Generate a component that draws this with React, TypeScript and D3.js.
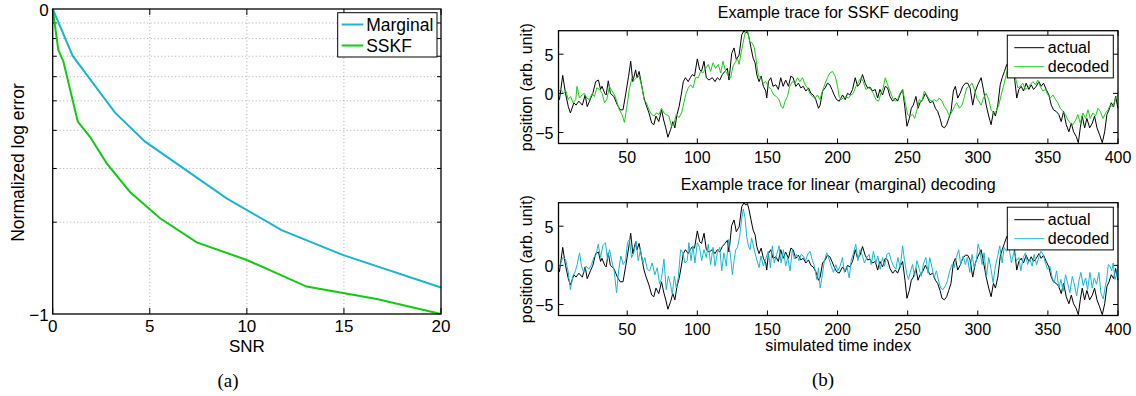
import * as d3 from "d3";

// (a) normalized log error vs SNR
const snrMarginal = [0, 1.03, 3.21, 4.76, 8.96, 11.79, 14.97, 20];
const errMarginal = [0, -0.154, -0.34, -0.435, -0.621, -0.725, -0.807, -0.913];
const snrSSKF = [0, 0.29, 0.55, 1.29, 1.92, 2.78, 3.98, 5.53, 7.42, 10, 13.08, 16.69, 20];
const errSSKF = [0, -0.134, -0.172, -0.369, -0.419, -0.506, -0.6, -0.686, -0.765, -0.823, -0.91, -0.951, -1];
const snrTicks = [0, 5, 10, 15, 20];
const errMajor = [0, -1];
const errMinor = [0.9, 0.8, 0.7, 0.6, 0.5, 0.4, 0.3, 0.2]; // log-decade minor ticks

// (b) example traces: [time index, position]
const actualTrace: [number, number][] = [
  [1, -0.4], [1.7, -0.8], [4, 2.3], [6, 0], [8, -1.7], [9.5, -2.5], [12, -1.2], [13.5, -1.5], [15.5, -1], [18, -1.5],
  [20, -0.2], [21.5, -1.7], [24, -0.6], [25.5, 0], [27.5, 1.5], [29.5, 1.7], [31, 0.5], [32, 0.9], [34, 0], [35, -0.2],
  [36.5, 1.6], [38, 0], [40.5, -0.4], [43, -1.5], [45, -2.1], [47, -2.1], [49, 0], [51, 2.2], [52.5, 4.1], [54, 1.5],
  [56, 3], [57, 2], [58.5, 2.8], [60, 1.3], [62, -0.6], [63.5, -1.5], [65.5, -2.5], [67.5, -3.8], [69, -4], [70.5, -2.9],
  [72.5, -3.6], [74.5, -2.1], [76, -3.4], [77.5, -4.4], [79, -5.6], [81, -4.6], [82.5, -3.6], [84, -4.4], [85.5, -2.7], [87, -1.7],
  [88.5, -0.2], [90, 1.5], [91.5, 2], [93.5, 1.5], [95, 2], [96.5, 2.4], [98, 2.2], [100, 4.4], [101.7, 3], [103, 2.8],
  [104.8, 4.1], [106.4, 2], [108.3, 1.7], [110.7, 2], [112.6, 1.5], [114.3, 2], [116, 1.7], [117.8, 2.4], [119.7, 2.8], [121.4, 3.2],
  [122.6, 1.7], [124.5, 5.1], [126.2, 5.8], [127.8, 4.3], [129.8, 4.9], [131.7, 7.5], [133.3, 8], [134.5, 7.7], [135.7, 7.9], [136.9, 7.1],
  [138.3, 5.8], [139.8, 4.5], [141.2, 3.9], [142.4, 2.4], [144, 1.5], [145.5, 2.2], [147.1, 0.9], [148.8, 0.3], [149.5, -0.6], [150.7, 1.5],
  [152.4, 2], [154, 0.9], [156, 1.1], [157.8, 0.5], [159.5, 2], [161.2, 0.9], [163, 1.7], [165, 0.9], [166.7, 2.2], [168.3, 2],
  [170.2, 0.9], [172.1, 1.3], [173.8, 0.7], [175.5, 0.9], [177.4, 0.3], [179.3, 0.7], [181, 0], [182.6, -0.2], [184.5, -0.8], [186.4, -1.9],
  [187.6, -1.5], [189.3, 0.3], [191.2, 0.7], [192.8, 1.3], [194.5, 1.1], [196, 0.5], [197.6, -0.2], [199.3, -0.8], [201.2, -1], [203.6, -0.2],
  [205.5, -0.8], [207.1, 0], [208.8, -0.2], [210.7, 0.5], [212.6, 2], [214.3, 0.9], [216, 1.3], [217.8, 2.4], [219.7, 1.3], [221.4, 0.7],
  [223.1, 0.8], [225, 0.3], [226.9, 0.5], [228.6, -0.6], [230.2, 0.5], [232.1, -0.2], [234, 0.9], [235.7, 0.7], [237.4, -0.4], [239.3, -1],
  [241.2, -0.6], [242.8, -1], [244.5, -0.2], [246.4, 0.5], [248.1, -1.9], [249.5, -4.2], [251.2, -3.2], [252.6, -1.9], [254, -1.5], [255.9, -0.4],
  [257.4, -1.9], [258.8, -1.2], [260.7, -0.8], [262.6, 0], [264.3, -0.6], [265.9, -1.2], [267.9, -1], [269.8, -1.9], [271.4, -2.3], [273.1, -3.2],
  [274.5, -4.2], [276.2, -4.4], [277.8, -4], [279.3, -3.2], [280.9, -2.3], [282.6, 0.3], [284, 0.9], [285.7, -0.6], [287.4, 0], [289.3, 0.9],
  [291.2, 1.3], [292.8, 1.3], [294.5, 0.7], [296.4, -1.5], [298.3, 0.3], [300, 1.1], [302.4, 2], [304, 0.5], [306, -1.5], [307.8, -2.9],
  [309.5, -4], [311.2, -2.3], [312.6, -2.9], [314.3, -1.5], [316, 1.1], [317.4, 2], [319, 2.8], [320.7, 3.7], [323, 3.4], [325, 2.6],
  [326.2, 2], [327.8, -0.6], [329.3, 0.5], [331, 0.9], [332.6, 0.3], [334.5, 1.3], [336.4, 0.5], [338.1, 1.1], [339.8, 0.5], [341.7, 0.9],
  [343.6, 1.5], [345.2, 0.9], [346.9, 1.3], [348.8, 0.5], [350.7, -0.2], [352.4, -1.5], [354, -2.1], [355.9, -2.3], [357.8, -2.7], [359.5, -3.6],
  [361.2, -2.3], [363.1, -4], [365, -4.9], [366.7, -3.8], [368.3, -4.9], [370.2, -5.5], [371.7, -6.3], [373.1, -4.4], [374.5, -2.9], [376.2, -4.4],
  [377.8, -3.2], [379.8, -4.4], [381.7, -3.8], [383.3, -2.9], [385, -4.4], [386.9, -5.3], [388.8, -6.3], [390.5, -4.9], [392.1, -2.7], [393.6, -2.1],
  [395.2, -1.2], [396.9, -1.7], [398.3, -0.4], [400, -1.9],
];

const sskfTrace: [number, number][] = [
  [1, 0.3], [2.7, 0.5], [4.5, 0], [6.3, 0.3], [8, -0.8], [9.6, -0.4], [11.4, -1.2], [13.3, -0.8], [14.2, 0.9], [16, -0.6],
  [17.8, -0.2], [19.5, 0], [21.2, -0.6], [23, -0.8], [25, 0], [26.6, -0.4], [28.3, 0.7], [30.2, 0.5], [32.1, 0], [33.8, -1.2],
  [35.4, -0.8], [37.4, 0.9], [39.2, 0.3], [40.9, -0.2], [42.5, -1], [44.4, -2.1], [46.3, -2.7], [48, -3.7], [49.6, -1.9], [51.5, 0.5],
  [53.4, 2], [55, 1.7], [56.7, 2], [58.5, 2.2], [60.4, 0.9], [62, -0.8], [63.7, -1.2], [65.5, -2.1], [67.5, -2.7], [69.2, -2.9],
  [70.8, -2.5], [72.7, -2.7], [74.5, -1.9], [76.2, -2.5], [77.8, -2.7], [79.7, -2.9], [81.6, -4.2], [83.2, -4], [85, -2.7], [86.9, -3.1],
  [88.8, -2.5], [90.4, -1.2], [92, 0], [93.5, 0.7], [95.2, 1.1], [96.9, 0.7], [98.7, 2], [100.7, 2], [102.4, 2.8], [104, 2.6],
  [106, 3.2], [107.8, 3.7], [109.5, 2.8], [111.2, 3.9], [113, 3.2], [115, 3.7], [116.7, 2.6], [118.3, 4.1], [120.2, 2.8], [122.1, 2.2],
  [123.8, 2], [125.5, 3.5], [126.9, 3.9], [128.6, 4.5], [129.8, 3.7], [131.2, 5.2], [132.6, 6.4], [134, 7.7], [135.7, 8], [137.4, 6.6],
  [139.3, 6.4], [140.7, 5.8], [142.1, 4.1], [143.6, 2.2], [145.2, 2], [146.9, 1.3], [148.8, 1.5], [150.7, 0.9], [152.6, 0.5], [154.5, -0.2],
  [156.4, -0.4], [158.3, -0.8], [159.8, -1.7], [161.2, -1.9], [162.6, -1], [164.3, -0.4], [165.9, 0.9], [167.8, 1.5], [169.8, 1.3], [171.4, 2],
  [173.1, 1.5], [175, 2], [176.9, 1.1], [178.6, 0.7], [180.2, 0], [182.1, -0.4], [184, -0.6], [185.7, -0.2], [187.4, -0.8], [189.3, 0.3],
  [191.2, 1.3], [192.8, 2], [194.5, 2.6], [196.4, 2.8], [198.3, 2.2], [200, 0.9], [201.2, -0.4], [202.4, -0.8], [204, -0.6], [205.9, -0.4],
  [207.8, -0.6], [209.5, -0.2], [211.2, 0], [213.1, 0.9], [215, 1.5], [216.7, 2], [218.3, 1.5], [220.2, 0.5], [222.1, 0.7], [223.8, 0.5],
  [225.5, 0], [227.4, -0.8], [229.3, -1], [230.9, 0], [232.6, 0.7], [234, 2], [235.7, 1.1], [237.4, 0.3], [239.3, -0.6], [241.2, -1],
  [242.8, -0.8], [244.5, 0], [246.4, 0.5], [248.3, -1.2], [250, -2.7], [251.7, -2.9], [253.6, -2.7], [255, -3.2], [256.4, -2.3], [258.3, -0.8],
  [260.2, -1], [261.9, 0.3], [263.6, -0.2], [265.5, -0.8], [267.4, -1], [269, -0.8], [270.7, -1], [272.6, -0.6], [274.5, -1], [276.2, -1.7],
  [277.8, -2.1], [279.8, -2.9], [281.7, -2.3], [283.3, -1.7], [285, -1.2], [286.9, -1.9], [288.8, -1.5], [290.5, -0.4], [292.1, 0.7], [294, 0.9],
  [295.9, 1.3], [297.6, 0.5], [299.3, -0.6], [300.7, -1], [302.4, -1.5], [304, -0.6], [306, 0], [307.8, -0.8], [309.5, -2.1], [311.2, -2.5],
  [313.1, -2.3], [315, -1.5], [316.7, -0.2], [318.3, 0.9], [319.8, 2], [321.4, 3.2], [323.5, 3.5], [325.5, 2.8], [326.9, 2], [328.6, 0.7],
  [330.2, 0.9], [332.1, 1.3], [334, 0.5], [335.7, 0.7], [337.4, 1.1], [339.3, 1.5], [341.2, 1.1], [342.8, 1.7], [344.5, 0.9], [346.4, 0.3],
  [348.3, 0.5], [350, -0.2], [351.7, -0.6], [353.6, -0.2], [355.5, -0.8], [357.1, -1.2], [358.8, -1.9], [360.7, -2.3], [362.6, -2.7], [364.3, -3.4],
  [366, -3.8], [367.9, -4], [369.8, -3.4], [371.4, -2.7], [373.1, -3.8], [375, -2.5], [376.9, -3.2], [378.6, -2.1], [380.2, -3.2], [382.1, -2.5],
  [384, -2.9], [385.7, -1.9], [387.4, -2.3], [389.3, -3.2], [391.2, -2.5], [392.8, -2.1], [394.5, -1.5], [396.4, -1.7], [398.3, -0.6], [400, -0.2],
];

const marginalTrace: [number, number][] = [
  [1.2, -0.3], [2.4, 0.1], [4, 1], [6, 0.8], [7.8, -0.7], [9.5, -3.1], [11.2, -1.4], [13.1, -0.7], [14.3, 0.1], [16, 1.6],
  [17.4, -0.1], [19, -0.9], [20.7, -0.1], [22.6, -0.5], [24.5, 0.1], [26.2, 1], [27.8, 1.4], [29.3, 2.7], [31, 1], [32.6, 2.5],
  [34.5, 2.9], [35.9, 0.8], [37.4, 2], [39.3, 0.3], [40.7, -0.7], [42.4, -3.5], [44, -0.5], [45.5, 1.2], [47.1, 0.1], [48.8, 0.6],
  [50.2, 2.9], [51.6, 3.3], [53.1, 1], [54.7, 1.6], [56.4, 3.1], [57.8, 0.6], [59.5, 2], [61.2, 0.3], [62.6, 1], [64.3, -0.5],
  [66, -0.7], [67.8, 0.3], [69.7, -1.2], [71.4, -0.3], [73.1, -2.4], [74.5, -1.6], [76.2, 0.8], [77.8, -3.1], [79.3, -1.4], [80.9, -2.4],
  [82.1, -3.7], [83.6, -1.4], [85, -2.9], [86.4, -1.6], [88.1, 2], [89.7, 1.6], [91.2, 0.3], [92.8, 0.6], [94, 2.9], [95.5, 0.6],
  [96.9, 2.5], [98.3, 0.3], [100, 2.9], [101.6, 2.3], [103.1, 0.6], [104.7, 2], [106.4, 1], [107.8, 2.7], [109.5, 0.1], [111.2, 2.3],
  [112.6, -0.1], [114.3, 1.6], [116, 2.3], [117.4, -0.7], [119, 1.6], [120.7, -0.1], [122.1, 3.3], [123.8, 1], [125, -1.2], [126.2, 0.6],
  [127.4, 2], [128.6, 2.3], [130.2, 3.7], [131.6, 5.9], [132.8, 7.2], [134, 6.1], [135.2, 3.7], [136.4, 2.5], [137.6, 2], [138.7, 3.5],
  [140.6, 2], [142.3, 0.8], [144, -0.3], [145.4, 1.2], [147.1, -0.1], [148.7, 0.8], [150.6, 1.8], [152.1, -0.3], [153.5, 2.5], [154.9, 0.3],
  [156.6, 1.4], [158.3, 2.5], [159.7, 0.3], [161.4, 2], [163, -0.1], [164.5, 1], [166.1, -0.7], [167.8, 2], [169.2, 0.8], [170.9, 1.4],
  [172.5, 0.6], [174, 1.4], [175.6, 1.2], [177.3, 0.6], [178.7, 1.4], [180.4, 1.8], [182.1, 0.6], [183.5, -0.1], [185.2, -1.8], [186.4, -0.3],
  [187.6, -2.9], [189.2, -1.2], [190.6, 0.6], [192.3, 1.6], [194, 0.8], [195.4, -0.1], [197.1, -0.9], [198.7, 0.1], [200.2, -0.7], [201.8, -0.1],
  [203.5, 1], [204.9, -0.9], [206.6, -0.1], [208.3, -1.6], [209.7, 0.6], [211.4, 1.6], [213, 2.7], [214.5, 0.6], [216.1, 2], [217.8, 1.2],
  [219.2, 0.3], [220.9, 1], [222.5, 1.4], [224, 0.1], [225.6, 1.8], [227.3, 0.3], [228.7, 1.2], [230.4, -0.5], [232.1, 1], [233.5, -0.1],
  [235.2, 1.4], [236.8, 1.6], [238.3, 0.6], [239.9, -0.1], [241.6, -0.5], [243, 1], [244.7, -0.3], [246.4, 2.5], [247.8, 0.6], [249.5, -1.2],
  [250.6, -1.8], [251.8, -0.9], [253.5, 0.1], [254.9, -1.4], [256.6, 0.6], [258.3, -0.5], [259.7, -1.4], [261.4, 0.3], [263, 1], [264.5, -1],
  [265.7, 1], [267.4, -0.3], [268.8, -1.6], [270.5, -0.7], [272.1, -2], [273.5, -2.9], [275.2, -3.1], [276.9, -2.6], [278.3, -2], [280, -0.7],
  [281.6, 0.1], [283.1, -0.3], [284.7, 1], [286.4, 2], [287.8, 0.1], [289.5, 1.2], [291.2, 0.1], [292.6, 1], [294.3, -0.9], [295.9, 1.4],
  [297.4, -0.3], [299, 0.6], [300.2, 2.7], [301.4, 2], [303.1, 0.1], [304.5, 1.6], [306.2, -1.4], [307.8, 1], [309.3, -0.3], [310.9, -2.2],
  [312.6, -0.1], [314, 1], [315.7, 2.5], [317.4, 0.3], [318.8, 2.3], [320.5, 1.8], [322.1, 2.5], [324, 0.3], [325.9, 1.8], [327.6, 0.6],
  [329.3, 1], [330.7, -0.7], [332.4, 1], [334, 1.6], [335.5, 0.1], [337.1, 0.8], [338.8, -0.1], [340.2, 1.4], [341.9, 0.1], [343.5, 1],
  [345, 1.8], [346.6, 1.4], [348.3, 0.3], [349.7, -0.5], [351.4, -0.1], [353.1, -1.6], [354.5, -2.2], [356.2, -0.7], [357.8, -2.9], [359.3, -1.8],
  [360.9, -3.3], [362.6, -1.2], [364, -2.2], [365.7, -3.5], [367.4, -1.4], [368.8, -2.4], [370.5, -3.9], [372.1, -2], [373.5, -0.9], [375.2, -2.6],
  [376.9, -1.6], [378.3, -3.1], [380, -0.9], [381.6, -2.9], [383.1, -1.6], [384.7, -2.4], [386.4, -0.9], [387.8, -3.5], [389.5, -4.3], [390.7, -2.9],
  [391.9, -1.8], [393.1, 0.1], [394.3, -0.1], [395.5, -0.7], [396.6, 0.3], [397.8, -1.8], [399, -1.2], [400, -0.1],
];
const timeTicks = [50, 100, 150, 200, 250, 300, 350, 400];
const posTicks = [-5, 0, 5];

const SANS = "'Liberation Sans', Arial, Helvetica, sans-serif";
const SERIF = "'Liberation Serif', 'DejaVu Serif', serif";
const BLUE = "#1cb4d2";
const GREEN = "#14c814";
const TRACE_BLUE = "#17b8d3";
const TRACE_GREEN = "#1ccc1c";

function PanelA() {
  const x = d3.scaleLinear().domain([0, 20]).range([52.7, 441]);
  const y = d3.scaleLinear().domain([-1, 0]).range([314, 9]);
  const [x0, x1] = x.range();
  const [y0, y1] = y.range();
  const line = d3.line<number>();
  const pathOf = (xs: number[], ys: number[]) =>
    line(xs.map((v, i) => [x(v), y(ys[i])] as [number, number])) || "";

  return (
    <g fontFamily={SANS} fontSize={17}>
      {/* dotted grid */}
      {snrTicks.slice(1, -1).map((t) => (
        <line key={"gx" + t} x1={x(t)} x2={x(t)} y1={y1} y2={y0} stroke="#999" strokeDasharray="1,2.5" strokeWidth={0.8} />
      ))}
      {errMinor.map((m) => (
        <line key={"gy" + m} x1={x0} x2={x1} y1={y(Math.log10(m))} y2={y(Math.log10(m))} stroke="#999" strokeDasharray="1,2.5" strokeWidth={0.8} />
      ))}
      {/* ticks */}
      {snrTicks.map((t) => (
        <g key={"tx" + t}>
          <line x1={x(t)} x2={x(t)} y1={y0} y2={y0 - 6} stroke="#000" />
          <line x1={x(t)} x2={x(t)} y1={y1} y2={y1 + 6} stroke="#000" />
          <text x={x(t)} y={y0 + 12.5} textAnchor="middle" dominantBaseline="central">{t}</text>
        </g>
      ))}
      {errMinor.map((m) => (
        <g key={"ty" + m}>
          <line x1={x0} x2={x0 + 4} y1={y(Math.log10(m))} y2={y(Math.log10(m))} stroke="#000" />
          <line x1={x1} x2={x1 - 4} y1={y(Math.log10(m))} y2={y(Math.log10(m))} stroke="#000" />
        </g>
      ))}
      {errMajor.map((v) => (
        <text key={"ly" + v} x={x0 - 4} y={y(v) + 1} textAnchor="end" dominantBaseline="central">
          {v < 0 ? "\u2212" + Math.abs(v) : v}
        </text>
      ))}
      {/* curves */}
      <path d={pathOf(snrMarginal, errMarginal)} fill="none" stroke={BLUE} strokeWidth={2} />
      <path d={pathOf(snrSSKF, errSSKF)} fill="none" stroke={GREEN} strokeWidth={2} />
      <rect x={x0} y={y1} width={x1 - x0} height={y0 - y1} fill="none" stroke="#000" strokeWidth={1.3} />
      {/* labels */}
      <text x={(x0 + x1) / 2} y={346.5} textAnchor="middle" dominantBaseline="central">SNR</text>
      <text transform={`translate(17.5,162.5) rotate(-90)`} textAnchor="middle" dominantBaseline="central" fontSize={17.5}>
        Normalized log error
      </text>
      {/* legend */}
      <rect x={337.7} y={12.7} width={99.3} height={44.3} fill="#fff" stroke="#000" strokeWidth={1} />
      <line x1={341.7} x2={363.3} y1={24.5} y2={24.5} stroke={BLUE} strokeWidth={2} />
      <text x={366.2} y={24.5} dominantBaseline="central" fontSize={17.5}>Marginal</text>
      <line x1={341.7} x2={363.3} y1={45.5} y2={45.5} stroke={GREEN} strokeWidth={2} />
      <text x={366.2} y={45.5} dominantBaseline="central" fontSize={17.5}>SSKF</text>
      <text x={228} y={380} textAnchor="middle" dominantBaseline="central" fontFamily={SERIF} fontSize={19}>(a)</text>
    </g>
  );
}

function TracePlot({ top, title, decoded, color, xlabel }: {
  top: number; title: string; decoded: [number, number][]; color: string; xlabel?: string;
}) {
  const x = d3.scaleLinear().domain([1, 400]).range([558.5, 1118]);
  const y = d3.scaleLinear().domain([-6.4, 8]).range([top + 112.8, top]);
  const [x0, x1] = x.range();
  const [y0, y1] = y.range();
  const line = d3.line<[number, number]>().x((d) => x(d[0])).y((d) => y(d[1]));
  const lx = 1007.3;
  const ly = top + 4.5;

  return (
    <g fontFamily={SANS} fontSize={16}>
      <text x={(x0 + x1) / 2} y={y1 - 18.5} textAnchor="middle" dominantBaseline="central">{title}</text>
      {timeTicks.map((t) => (
        <g key={t}>
          <line x1={x(t)} x2={x(t)} y1={y0} y2={y0 - 5} stroke="#000" />
          <line x1={x(t)} x2={x(t)} y1={y1} y2={y1 + 5} stroke="#000" />
          <text x={x(t)} y={y0 + 13.5} textAnchor="middle" dominantBaseline="central">{t}</text>
        </g>
      ))}
      {posTicks.map((v) => (
        <g key={v}>
          <line x1={x0} x2={x0 + 5} y1={y(v)} y2={y(v)} stroke="#000" />
          <line x1={x1} x2={x1 - 5} y1={y(v)} y2={y(v)} stroke="#000" />
          <text x={x0 - 5} y={y(v) + 1} textAnchor="end" dominantBaseline="central">
            {v < 0 ? "\u2212" + Math.abs(v) : v}
          </text>
        </g>
      ))}
      <path d={line(actualTrace) || ""} fill="none" stroke="#000" strokeWidth={1} />
      <path d={line(decoded) || ""} fill="none" stroke={color} strokeWidth={1} />
      <rect x={x0} y={y1} width={x1 - x0} height={y0 - y1} fill="none" stroke="#000" strokeWidth={1.3} />
      <text transform={`translate(526,${(y0 + y1) / 2}) rotate(-90)`} textAnchor="middle" dominantBaseline="central">
        position (arb. unit)
      </text>
      {xlabel && (
        <text x={(x0 + x1) / 2} y={y0 + 30} textAnchor="middle" dominantBaseline="central">{xlabel}</text>
      )}
      {/* legend */}
      <rect x={lx} y={ly} width={106} height={42.7} fill="#fff" stroke="#000" strokeWidth={1} />
      <line x1={lx + 7} x2={lx + 37} y1={ly + 12.5} y2={ly + 12.5} stroke="#000" strokeWidth={1} />
      <text x={lx + 40.5} y={ly + 12.5} dominantBaseline="central">actual</text>
      <line x1={lx + 7} x2={lx + 37} y1={ly + 31.5} y2={ly + 31.5} stroke={color} strokeWidth={1} />
      <text x={lx + 40.5} y={ly + 31.5} dominantBaseline="central">decoded</text>
    </g>
  );
}

export default function App() {
  return (
    <svg
      width={1136}
      height={396}
      viewBox="0 0 1136 396"
      style={{ position: "absolute", left: 0, top: 0, background: "#fff" }}
    >
      <PanelA />
      <TracePlot top={30.7} title="Example trace for SSKF decoding" decoded={sskfTrace} color={TRACE_GREEN} />
      <TracePlot
        top={202.7}
        title="Example trace for linear (marginal) decoding"
        decoded={marginalTrace}
        color={TRACE_BLUE}
        xlabel="simulated time index"
      />
      <text x={823} y={379} textAnchor="middle" dominantBaseline="central" fontFamily={SERIF} fontSize={19}>(b)</text>
    </svg>
  );
}
